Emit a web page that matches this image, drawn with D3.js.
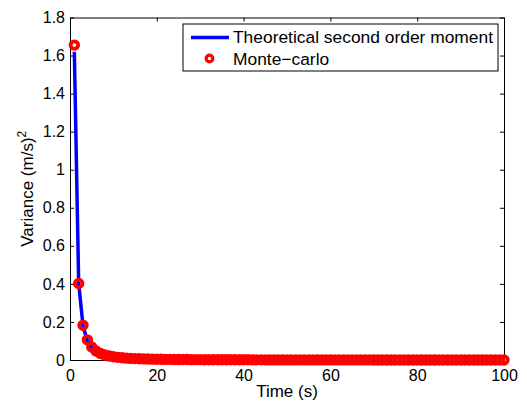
<!DOCTYPE html>
<html>
<head>
<meta charset="utf-8">
<script src="https://cdn.jsdelivr.net/npm/d3@7"></script>
<style>
    body { margin: 0; background: #fff; }
    svg { display: block; font-family: "Liberation Sans", Arial, sans-serif; }
</style>
</head>
<body>
<div id="chart"></div>
<script>
// time steps (s)
const times = d3.range(1, 101);

// Monte-carlo variance estimates, one per second
const monteCarlo = [
    1.655, 0.402, 0.183, 0.106, 0.068, 0.047, 0.034, 0.026, 0.021, 0.017,
    0.014, 0.0117, 0.0099, 0.0085, 0.0074, 0.0065, 0.0058, 0.0051, 0.0046, 0.0042,
    0.0038, 0.0034, 0.0031, 0.0029, 0.0027, 0.0025, 0.0023, 0.0021, 0.0020, 0.0018,
    0.0017, 0.0016, 0.0015, 0.0014, 0.0014, 0.0013, 0.0012, 0.0012, 0.0011, 0.0010,
    0.0010, 0.0009, 0.0009, 0.0009, 0.0008, 0.0008, 0.0008, 0.0007, 0.0007, 0.0007,
    0.0006, 0.0006, 0.0006, 0.0006, 0.0005, 0.0005, 0.0005, 0.0005, 0.0005, 0.0005,
    0.0004, 0.0004, 0.0004, 0.0004, 0.0004, 0.0004, 0.0004, 0.0004, 0.0004, 0.0003,
    0.0003, 0.0003, 0.0003, 0.0003, 0.0003, 0.0003, 0.0003, 0.0003, 0.0003, 0.0003,
    0.0003, 0.0003, 0.0002, 0.0002, 0.0002, 0.0002, 0.0002, 0.0002, 0.0002, 0.0002,
    0.0002, 0.0002, 0.0002, 0.0002, 0.0002, 0.0002, 0.0002, 0.0002, 0.0002, 0.0002
];

// theoretical second order moment
const theoretical = [
    1.62, 0.402, 0.18, 0.101, 0.065, 0.045, 0.033, 0.025, 0.020, 0.016,
    0.0134, 0.0113, 0.0096, 0.0083, 0.0072, 0.0063, 0.0056, 0.0050, 0.0045, 0.0041,
    0.0037, 0.0033, 0.0031, 0.0028, 0.0026, 0.0024, 0.0022, 0.0021, 0.0019, 0.0018,
    0.0017, 0.0016, 0.0015, 0.0014, 0.0013, 0.0013, 0.0012, 0.0011, 0.0011, 0.0010,
    0.0010, 0.0009, 0.0009, 0.0008, 0.0008, 0.0008, 0.0007, 0.0007, 0.0007, 0.0006,
    0.0006, 0.0006, 0.0006, 0.0006, 0.0005, 0.0005, 0.0005, 0.0005, 0.0005, 0.0005,
    0.0004, 0.0004, 0.0004, 0.0004, 0.0004, 0.0004, 0.0004, 0.0004, 0.0003, 0.0003,
    0.0003, 0.0003, 0.0003, 0.0003, 0.0003, 0.0003, 0.0003, 0.0003, 0.0003, 0.0003,
    0.0002, 0.0002, 0.0002, 0.0002, 0.0002, 0.0002, 0.0002, 0.0002, 0.0002, 0.0002,
    0.0002, 0.0002, 0.0002, 0.0002, 0.0002, 0.0002, 0.0002, 0.0002, 0.0002, 0.0002
];

const xTicks = [0, 20, 40, 60, 80, 100];
const yTicks = [0, 0.2, 0.4, 0.6, 0.8, 1, 1.2, 1.4, 1.6, 1.8];
const seriesNames = ["Theoretical second order moment", "Monte\u2212carlo"];

const config = {
    width: 527,
    height: 405,
    margin: { left: 70, right: 23, top: 17.5, bottom: 45 }
};

const innerW = config.width - config.margin.left - config.margin.right;
const innerH = config.height - config.margin.top - config.margin.bottom;

const svg = d3.select("#chart")
    .append("svg")
    .attr("width", config.width)
    .attr("height", config.height);

const g = svg.append("g")
    .attr("transform", `translate(${config.margin.left},${config.margin.top})`);

const xScale = d3.scaleLinear().domain([0, 100]).range([0, innerW]);
const yScale = d3.scaleLinear().domain([0, 1.8]).range([innerH, 0]);

// Axes with inward ticks on all four sides (matlab box style)
const fmt = d => String(d);
const tickLen = 4;

const xBottom = g.append("g")
    .attr("transform", `translate(0,${innerH})`)
    .call(d3.axisBottom(xScale).tickValues(xTicks).tickFormat(fmt).tickSizeInner(-tickLen).tickSizeOuter(0).tickPadding(10));
const xTop = g.append("g")
    .call(d3.axisTop(xScale).tickValues(xTicks).tickFormat("").tickSizeInner(-tickLen).tickSizeOuter(0));
const yLeft = g.append("g")
    .call(d3.axisLeft(yScale).tickValues(yTicks).tickFormat(fmt).tickSizeInner(-tickLen).tickSizeOuter(0).tickPadding(5));
const yRight = g.append("g")
    .attr("transform", `translate(${innerW},0)`)
    .call(d3.axisRight(yScale).tickValues(yTicks).tickFormat("").tickSizeInner(-tickLen).tickSizeOuter(0));

[xBottom, xTop, yLeft, yRight].forEach(a => {
    a.select(".domain").attr("stroke", "#000").attr("stroke-width", 1);
    a.selectAll(".tick line").attr("stroke", "#000");
    a.selectAll(".tick text")
        .attr("fill", "#000")
        .style("font-size", "16px")
        .style("font-family", "'Liberation Sans', Arial, sans-serif");
});

// Curves
const line = d3.line()
    .x((d, i) => xScale(times[i]))
    .y(d => yScale(d));

g.append("path")
    .datum(theoretical)
    .attr("fill", "none")
    .attr("stroke", "#0000ff")
    .attr("stroke-width", 3.5)
    .attr("stroke-linejoin", "round")
    .attr("d", line);

g.selectAll(".mc")
    .data(monteCarlo)
    .join("circle")
    .attr("class", "mc")
    .attr("cx", (d, i) => xScale(times[i]))
    .attr("cy", d => yScale(d))
    .attr("r", 3.8)
    .attr("fill", "none")
    .attr("stroke", "#ff0000")
    .attr("stroke-width", 3.8);

// Axis labels
svg.append("text")
    .attr("x", config.margin.left + innerW / 2)
    .attr("y", 397)
    .attr("text-anchor", "middle")
    .style("font-size", "17px")
    .text("Time (s)");

const yLabel = svg.append("text")
    .attr("transform", `translate(33,${config.margin.top + innerH / 2}) rotate(-90)`)
    .attr("text-anchor", "middle")
    .style("font-size", "17px");
yLabel.append("tspan").text("Variance (m/s)");
yLabel.append("tspan").attr("dy", -7).style("font-size", "12px").text("2");

// Legend
const legend = svg.append("g").attr("transform", "translate(183,24)");
legend.append("rect")
    .attr("width", 315)
    .attr("height", 47)
    .attr("fill", "#fff")
    .attr("stroke", "#000")
    .attr("stroke-width", 1);
legend.append("line")
    .attr("x1", 8).attr("x2", 46)
    .attr("y1", 13.5).attr("y2", 13.5)
    .attr("stroke", "#0000ff")
    .attr("stroke-width", 3.5);
legend.append("circle")
    .attr("cx", 26.5).attr("cy", 34.5)
    .attr("r", 3.3)
    .attr("fill", "none")
    .attr("stroke", "#ff0000")
    .attr("stroke-width", 3.2);
legend.selectAll(".legend-text")
    .data(seriesNames)
    .join("text")
    .attr("class", "legend-text")
    .attr("x", 50)
    .attr("y", (d, i) => 19 + i * 22)
    .style("font-size", "17.4px")
    .text(d => d);
</script>
</body>
</html>
